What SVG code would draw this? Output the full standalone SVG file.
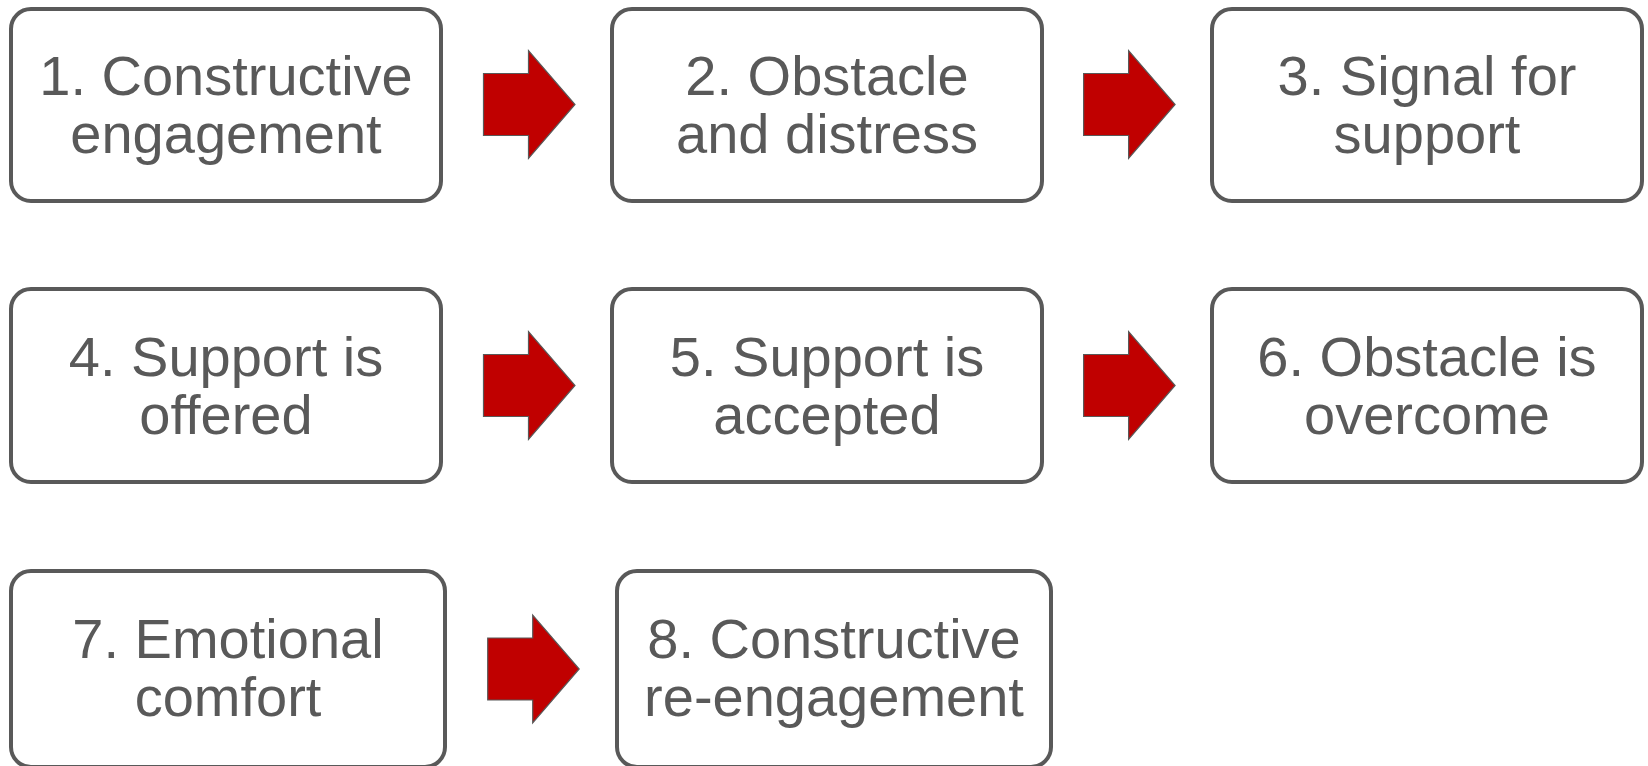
<svg xmlns="http://www.w3.org/2000/svg" xmlns:xlink="http://www.w3.org/1999/xlink" width="1648" height="766" viewBox="0 0 1648 766">
<style>
.box{fill:#ffffff;stroke:#595959;stroke-width:4}
.lbl{font-family:"Liberation Sans",Arial,sans-serif;font-size:56px;fill:#595959;text-anchor:middle}
.arr{fill:#C00000;stroke:#595959;stroke-width:1.2}
</style>
<defs>
<path id="arrow" d="M0,-31 H45 V-54 L91.5,0 L45,54 V31 H0 Z"/>
</defs>
<rect width="1648" height="766" fill="#ffffff"/>
<g id="n1"><rect class="box" x="11" y="9" width="430" height="192" rx="20"/><text class="lbl" x="226" y="95">1. Constructive</text><text class="lbl" x="226" y="153">engagement</text></g>
<g id="n2"><rect class="box" x="612" y="9" width="430" height="192" rx="20"/><text class="lbl" x="827" y="95">2. Obstacle</text><text class="lbl" x="827" y="153">and distress</text></g>
<g id="n3"><rect class="box" x="1212" y="9" width="430" height="192" rx="20"/><text class="lbl" x="1427" y="95">3. Signal for</text><text class="lbl" x="1427" y="153">support</text></g>
<g id="n4"><rect class="box" x="11" y="289" width="430" height="193" rx="20"/><text class="lbl" x="226" y="376">4. Support is</text><text class="lbl" x="226" y="434">offered</text></g>
<g id="n5"><rect class="box" x="612" y="289" width="430" height="193" rx="20"/><text class="lbl" x="827" y="376">5. Support is</text><text class="lbl" x="827" y="434">accepted</text></g>
<g id="n6"><rect class="box" x="1212" y="289" width="430" height="193" rx="20"/><text class="lbl" x="1427" y="376">6. Obstacle is</text><text class="lbl" x="1427" y="434">overcome</text></g>
<g id="n7"><rect class="box" x="11" y="571" width="434" height="196" rx="20"/><text class="lbl" x="228" y="658">7. Emotional</text><text class="lbl" x="228" y="716">comfort</text></g>
<g id="n8"><rect class="box" x="617" y="571" width="434" height="196" rx="20"/><text class="lbl" x="834" y="658">8. Constructive</text><text class="lbl" x="834" y="716">re-engagement</text></g>
<g id="connectors">
<use xlink:href="#arrow" class="arr" x="483.5" y="104.5"/>
<use xlink:href="#arrow" class="arr" x="1083.6" y="104.5"/>
<use xlink:href="#arrow" class="arr" x="483.5" y="385.5"/>
<use xlink:href="#arrow" class="arr" x="1083.6" y="385.5"/>
<use xlink:href="#arrow" class="arr" x="487.7" y="669"/>
</g>
</svg>
